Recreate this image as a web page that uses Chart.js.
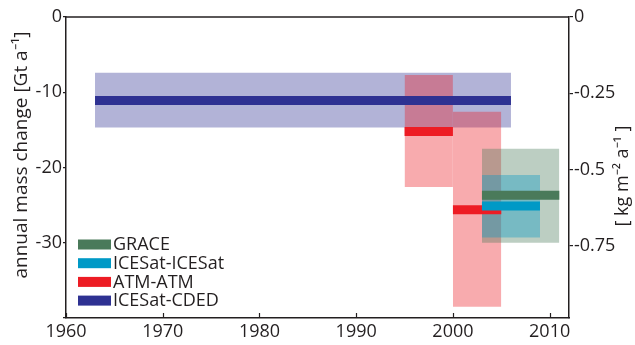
<!DOCTYPE html>
<html>
<head>
<meta charset="utf-8">
<script src="https://cdn.jsdelivr.net/npm/chart.js@4/dist/chart.umd.min.js"></script>
<style>
html, body { margin: 0; padding: 0; background: #fff; }
#wrap { width: 635px; height: 345px; position: relative; }
</style>
</head>
<body>
<div id="wrap"><canvas id="massChart"></canvas></div>
<script>
// one entry per period: mean rate and uncertainty band (Gt/a)
const seriesNames = ['GRACE', 'ICESat-ICESat', 'ATM-ATM', 'ATM-ATM', 'ICESat-CDED'];
const startYear = [2003, 2003, 1995, 2000, 1963];
const endYear = [2011, 2009, 2000, 2005, 2006];
const meanRate = [-23.7, -25.1, -15.2, -25.6, -11.1];
const upperRate = [-17.5, -21.0, -7.7, -12.6, -7.4];
const lowerRate = [-30.0, -29.3, -22.6, -38.5, -14.7];

const legendNames = ['GRACE', 'ICESat-ICESat', 'ATM-ATM', 'ICESat-CDED'];

const xTickYears = [1960, 1970, 1980, 1990, 2000, 2010];
const leftTicks = [0, -10, -20, -30, -40];
const rightTicks = [0, -0.25, -0.5, -0.75];

const leftTitle = 'annual mass change [Gt a\u207B\u00B9]';
const rightTitle = '[ kg m\u207B\u00B2 a\u207B\u00B9 ]';

// styles
const colors = {
    'GRACE': [74, 122, 90],
    'ICESat-ICESat': [0, 153, 198],
    'ATM-ATM': [237, 28, 36],
    'ICESat-CDED': [46, 49, 146]
};
const ink = '#231f20';
const fontFamily = "'Open Sans', 'Liberation Sans', sans-serif";

function rgb(c, a) {
    return a === undefined ? 'rgb(' + c.join(',') + ')' : 'rgba(' + c.join(',') + ',' + a + ')';
}

var datasets = [];
// boxes first (drawn below), then the mean bars; higher order = drawn earlier
var drawRank = [2, 1, 4, 3, 5]; // CDED lowest, ICESat-ICESat on top
for (var i = 0; i < seriesNames.length; i++) {
    var col = colors[seriesNames[i]];
    datasets.push({
        label: seriesNames[i] + ' range',
        data: [{x: startYear[i], y: upperRate[i]}, {x: endYear[i], y: upperRate[i]}],
        fill: {value: lowerRate[i]},
        backgroundColor: rgb(col, 0.37),
        borderColor: 'rgba(0,0,0,0)',
        borderWidth: 0,
        pointRadius: 0,
        order: 20 + drawRank[i]
    });
    datasets.push({
        label: seriesNames[i],
        data: [{x: startYear[i], y: meanRate[i]}, {x: endYear[i], y: meanRate[i]}],
        fill: false,
        borderColor: rgb(col),
        borderWidth: 9,
        borderCapStyle: 'butt',
        pointRadius: 0,
        order: 10 + drawRank[i]
    });
}

function drawVerticalText(ctx, text, x, y, size) {
    ctx.save()
    ctx.translate(x, y)
    ctx.rotate(-Math.PI / 2)
    ctx.font = size + 'px ' + fontFamily
    ctx.textAlign = 'center'
    ctx.textBaseline = 'alphabetic'
    ctx.fillStyle = ink
    ctx.fillText(text, 0, 0)
    ctx.restore()
}

const frameAndLegend = {
    id: 'frameAndLegend',
    afterDraw(chart) {
        var ctx = chart.ctx
        var area = chart.chartArea
        var x = chart.scales.x
        ctx.save()
        ctx.strokeStyle = ink
        ctx.lineWidth = 1.5
        ctx.beginPath()
        ctx.moveTo(area.left, area.top)
        ctx.lineTo(area.right, area.top)
        ctx.stroke()
        // inward ticks on the year axis
        ctx.lineWidth = 1.2
        xTickYears.forEach(year => {
            var px = Math.round(x.getPixelForValue(year)) + 0.5
            ctx.beginPath()
            ctx.moveTo(px, area.bottom)
            ctx.lineTo(px, area.bottom - 5)
            ctx.stroke()
        })
        // legend in the lower left corner
        ctx.font = '18px ' + fontFamily
        ctx.textBaseline = 'middle'
        legendNames.forEach((name, k) => {
            var cy = area.bottom - 73.5 + k * 18.7
            ctx.fillStyle = rgb(colors[name])
            ctx.fillRect(area.left + 12, cy - 5, 33, 10)
            ctx.fillStyle = ink
            ctx.fillText(name, area.left + 47, cy + 0.5)
        })
        ctx.restore()
        // axis titles
        drawVerticalText(ctx, leftTitle, 27, area.top + 138, 19)
        drawVerticalText(ctx, rightTitle, 628, area.top + 159, 18)
    }
};

var ctx = document.getElementById('massChart');
var chart = new Chart(ctx, {
    type: 'line',
    data: {datasets: datasets},
    options: {
        animation: false,
        responsive: true,
        maintainAspectRatio: false,
        layout: {padding: {top: 17, left: 0, right: 0, bottom: 0}},
        plugins: {
            legend: {display: false},
            tooltip: {enabled: false}
        },
        scales: {
            x: {
                type: 'linear',
                min: 1960,
                max: 2012,
                afterBuildTicks: scale => { scale.ticks = xTickYears.map(v => ({value: v})) },
                afterFit: scale => { scale.height = 27 },
                ticks: {
                    color: ink,
                    font: {family: fontFamily, size: 18},
                    padding: 3,
                    maxRotation: 0,
                    callback: v => String(v)
                },
                grid: {drawOnChartArea: false, drawTicks: false},
                border: {color: ink, width: 1.5}
            },
            y: {
                type: 'linear',
                position: 'left',
                min: -40,
                max: 0,
                afterBuildTicks: scale => { scale.ticks = leftTicks.map(v => ({value: v})) },
                afterFit: scale => { scale.width = 66 },
                ticks: {
                    color: ink,
                    font: {family: fontFamily, size: 18},
                    padding: 1,
                    callback: v => v === -40 ? '' : String(v)
                },
                grid: {drawOnChartArea: false, tickLength: 3, color: ink, lineWidth: 1.2},
                border: {color: ink, width: 1.5}
            },
            y1: {
                type: 'linear',
                position: 'right',
                min: -0.986,
                max: 0,
                afterBuildTicks: scale => { scale.ticks = rightTicks.map(v => ({value: v})) },
                afterFit: scale => { scale.width = 66 },
                ticks: {
                    color: ink,
                    font: {family: fontFamily, size: 18},
                    padding: 1,
                    callback: v => String(v)
                },
                grid: {drawOnChartArea: false, tickLength: 4, color: ink, lineWidth: 1.2},
                border: {color: ink, width: 1.5}
            }
        }
    },
    plugins: [frameAndLegend]
});
</script>
</body>
</html>
